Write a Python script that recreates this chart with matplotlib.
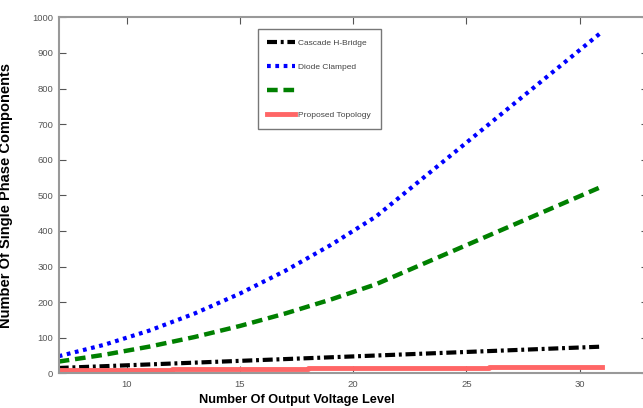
import matplotlib
matplotlib.use("Agg")
import matplotlib.pyplot as plt
from matplotlib import font_manager

# ---- data ----
levels = [7, 9, 11, 13, 15, 17, 19, 21, 31]
cascade_hb = [15, 20, 25, 30, 35, 40, 45, 50, 75]
diode_clamped = [48, 80, 120, 168, 224, 288, 360, 440, 960]
flying_cap = [33, 52, 75, 102, 133, 168, 207, 250, 525]

prop_levels = [7, 12, 12, 18, 18, 20, 20, 26, 26, 31]
proposed = [10, 10, 12, 12, 14, 14, 16, 16, 18, 18]

labels = ["Cascade H-Bridge", "Diode Clamped", "", "Proposed Topology"]
xticks = [10, 15, 20, 25, 30]
yticks = [0, 100, 200, 300, 400, 500, 600, 700, 800, 900, 1000]

names = {f.name for f in font_manager.fontManager.ttflist}
narrow = 'Liberation Sans Narrow' if 'Liberation Sans Narrow' in names else 'Liberation Sans'
plt.rcParams['font.family'] = [narrow, 'DejaVu Sans']

fig = plt.figure(figsize=(6.43, 4.08), dpi=100)
ax = fig.add_axes([0.0913, 0.085, 0.9159, 0.8726])

l1, = ax.plot(levels, cascade_hb, color='black', lw=3.0,
              dashes=(2.4, 0.9, 0.7, 0.9))
l2, = ax.plot(levels, diode_clamped, color='#0000ff', lw=3.0,
              dashes=(0.9, 1.1))
l3, = ax.plot(levels, flying_cap, color='#008000', lw=3.2,
              dashes=(2.4, 1.3))
l4, = ax.plot(prop_levels, proposed, color='#ff6666', lw=3.5)

ax.set_xlim(7, 33)
ax.set_ylim(0, 1000)
ax.set_xticks(xticks)
ax.set_yticks(yticks)

for s in ax.spines.values():
    s.set_color('#999999')
    s.set_linewidth(1.5)
ax.tick_params(direction='in', top=True, right=True, length=5,
               color='#555555', labelsize=6.8, labelcolor='#555555', width=0.8)
ax.tick_params(axis='x', pad=5)
ax.tick_params(axis='y', pad=4)

ax.set_xlabel("Number Of Output Voltage Level", fontsize=9.2,
              fontweight='bold')
ax.xaxis.set_label_coords(0.405, -0.058)
ax.set_ylabel("Number Of Single Phase Components", fontsize=10.5,
              fontweight='bold', labelpad=14, family=['Liberation Sans', 'DejaVu Sans'])

leg = ax.legend([l1, l2, l3, l4], labels, loc='upper left',
                bbox_to_anchor=(0.338, 0.966), fontsize=6.0,
                handlelength=3.3, labelspacing=1.95, borderpad=1.15,
                handletextpad=0.4, fancybox=False, frameon=True,
                borderaxespad=0)
leg.get_frame().set_edgecolor('#555555')
leg.get_frame().set_linewidth(1.0)
for t in leg.get_texts():
    t.set_color('#444444')

fig.savefig("out.png", dpi=100)
